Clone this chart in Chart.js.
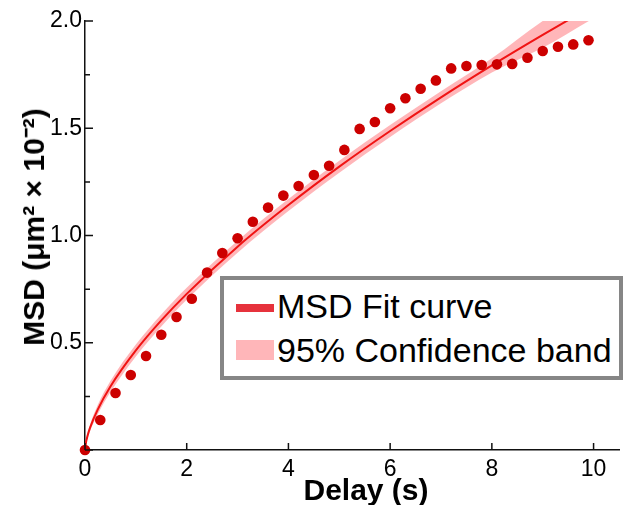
<!DOCTYPE html>
<html>
<head>
<meta charset="utf-8">
<script src="https://cdn.jsdelivr.net/npm/chart.js@4.4.1/dist/chart.umd.min.js"></script>
<style>
  html, body { margin: 0; padding: 0; background: #fff; }
  #wrap { position: relative; width: 625px; height: 505px; font-family: "Liberation Sans", Arial, sans-serif; }
  #chart { position: absolute; left: 0; top: 0; }
  .axis-title { position: absolute; font-weight: bold; font-size: 30px; line-height: 30px; white-space: nowrap; color: #000; }
  #xTitle { left: 366px; top: 490px; transform: translate(-50%, -50%); }
  #yTitle { left: 34px; top: 227px; transform: translate(-50%, -50%) rotate(-90deg); }
  #legend { position: absolute; left: 220px; top: 276px; width: 395px; height: 96px; border: 4px solid #868686; background: #fff; font-size: 34px; line-height: 34px; color: #000; }
  #legend .sw-line { position: absolute; left: 12px; top: 24px; width: 38px; height: 8px; background: #e6323c; }
  #legend .sw-band { position: absolute; left: 12px; top: 60px; width: 38px; height: 20px; background: #ffb6b9; }
  #legend .txt { position: absolute; left: 53px; white-space: nowrap; }
</style>
</head>
<body>
<div id="wrap">
  <canvas id="chart" width="625" height="505"></canvas>
  <div class="axis-title" id="xTitle">Delay (s)</div>
  <div class="axis-title" id="yTitle">MSD (μm² × 10⁻²)</div>
  <div id="legend">
    <div class="sw-line"></div>
    <div class="txt" style="top:9px">MSD Fit curve</div>
    <div class="sw-band"></div>
    <div class="txt" style="top:53px">95% Confidence band</div>
  </div>
</div>
<script>
// Measured MSD points
const delays = [0, 0.3, 0.6, 0.9, 1.2, 1.5, 1.8, 2.1, 2.4, 2.7, 3.0, 3.3, 3.6, 3.9, 4.2, 4.5, 4.8,
  5.1, 5.4, 5.7, 6.0, 6.3, 6.6, 6.9, 7.2, 7.5, 7.8, 8.1, 8.4, 8.7, 9.0, 9.3, 9.6, 9.9];
const msd = [0, 0.14, 0.266, 0.35, 0.438, 0.537, 0.62, 0.705, 0.827, 0.918, 0.987, 1.064, 1.13,
  1.186, 1.231, 1.282, 1.325, 1.399, 1.497, 1.529, 1.593, 1.64, 1.684, 1.723, 1.779, 1.79,
  1.795, 1.798, 1.80, 1.829, 1.86, 1.88, 1.891, 1.91];

// Fit curve and confidence band
const fitX = [0, 0.02, 0.05, 0.1, 0.25, 0.5, 1, 1.5, 2, 3, 4, 5, 6, 7, 8, 9, 10];
const fitY = [0, 0.036, 0.066, 0.104, 0.188, 0.296, 0.464, 0.604, 0.728, 0.948, 1.142, 1.321,
  1.487, 1.644, 1.793, 1.935, 2.073];
const bandUpper = [0, 0.044, 0.079, 0.119, 0.210, 0.322, 0.492, 0.632, 0.756, 0.976, 1.170,
  1.349, 1.515, 1.672, 1.826, 2.0, 2.15];
const bandLower = [0, 0.028, 0.053, 0.089, 0.166, 0.270, 0.436, 0.576, 0.700, 0.920, 1.114,
  1.293, 1.459, 1.616, 1.760, 1.875, 2.013];

const xTicks = [0, 2, 4, 6, 8, 10];

const pts = (xs, ys) => xs.map((x, i) => ({ x: x, y: ys[i] }));

// ticks drawn inside the plot, like the original figure
const innerTicks = {
  id: "innerTicks",
  afterDraw(chart) {
    const { ctx, chartArea, scales: { x, y } } = chart;
    ctx.save();
    ctx.strokeStyle = "#111";
    ctx.lineWidth = 1.5;
    ctx.beginPath();
    x.ticks.forEach(t => {
      const px = x.getPixelForValue(t.value);
      ctx.moveTo(px, chartArea.bottom);
      ctx.lineTo(px, chartArea.bottom - 7);
    });
    y.ticks.forEach(t => {
      const py = y.getPixelForValue(t.value);
      const major = Math.abs(t.value * 2 - Math.round(t.value * 2)) < 1e-6;
      ctx.moveTo(chartArea.left, py);
      ctx.lineTo(chartArea.left + (major ? 8 : 5), py);
    });
    ctx.stroke();
    ctx.restore();
  }
};

const tickFont = { family: "Liberation Sans", size: 23 };

new Chart(document.getElementById("chart"), {
  type: "scatter",
  data: {
    datasets: [
      {
        label: "MSD",
        data: pts(delays, msd),
        backgroundColor: "#cc0000",
        pointRadius: 5.3,
        pointBorderWidth: 0,
        clip: 8,
      },
      {
        label: "MSD Fit curve",
        data: pts(fitX, fitY),
        showLine: true,
        borderColor: "#f01414",
        borderWidth: 2,
        pointRadius: 0,
        cubicInterpolationMode: "monotone",
      },
      {
        label: "band upper",
        data: pts(fitX, bandUpper),
        showLine: true,
        borderWidth: 0,
        pointRadius: 0,
        cubicInterpolationMode: "monotone",
        backgroundColor: "rgba(255, 110, 115, 0.5)",
        fill: "+1",
      },
      {
        label: "band lower",
        data: pts(fitX, bandLower),
        showLine: true,
        borderWidth: 0,
        pointRadius: 0,
        cubicInterpolationMode: "monotone",
        fill: false,
      },
    ],
  },
  options: {
    responsive: false,
    animation: false,
    layout: { padding: { left: 0, right: 6, top: 21, bottom: 0 } },
    plugins: { legend: { display: false }, tooltip: { enabled: false } },
    scales: {
      x: {
        type: "linear",
        min: 0,
        max: 10.5,
        afterFit: s => { s.height = 55; },
        afterBuildTicks: s => { s.ticks = xTicks.map(v => ({ value: v })); },
        grid: { display: true, drawOnChartArea: false, drawTicks: false },
        border: { display: true, color: "#111", width: 1.5 },
        ticks: { font: tickFont, color: "#000", padding: 6, maxRotation: 0 },
      },
      y: {
        min: 0,
        max: 2.0,
        afterFit: s => { s.width = 85; },
        grid: { display: true, drawOnChartArea: false, drawTicks: false },
        border: { display: true, color: "#111", width: 1.5 },
        ticks: {
          font: tickFont,
          color: "#000",
          padding: 3,
          stepSize: 0.25,
          includeBounds: false,
          callback: v => {
            if (v === 0) return "";
            const major = Math.abs(v * 2 - Math.round(v * 2)) < 1e-6;
            return major ? v.toFixed(1) : "";
          },
        },
      },
    },
  },
  plugins: [innerTicks],
});
</script>
</body>
</html>
